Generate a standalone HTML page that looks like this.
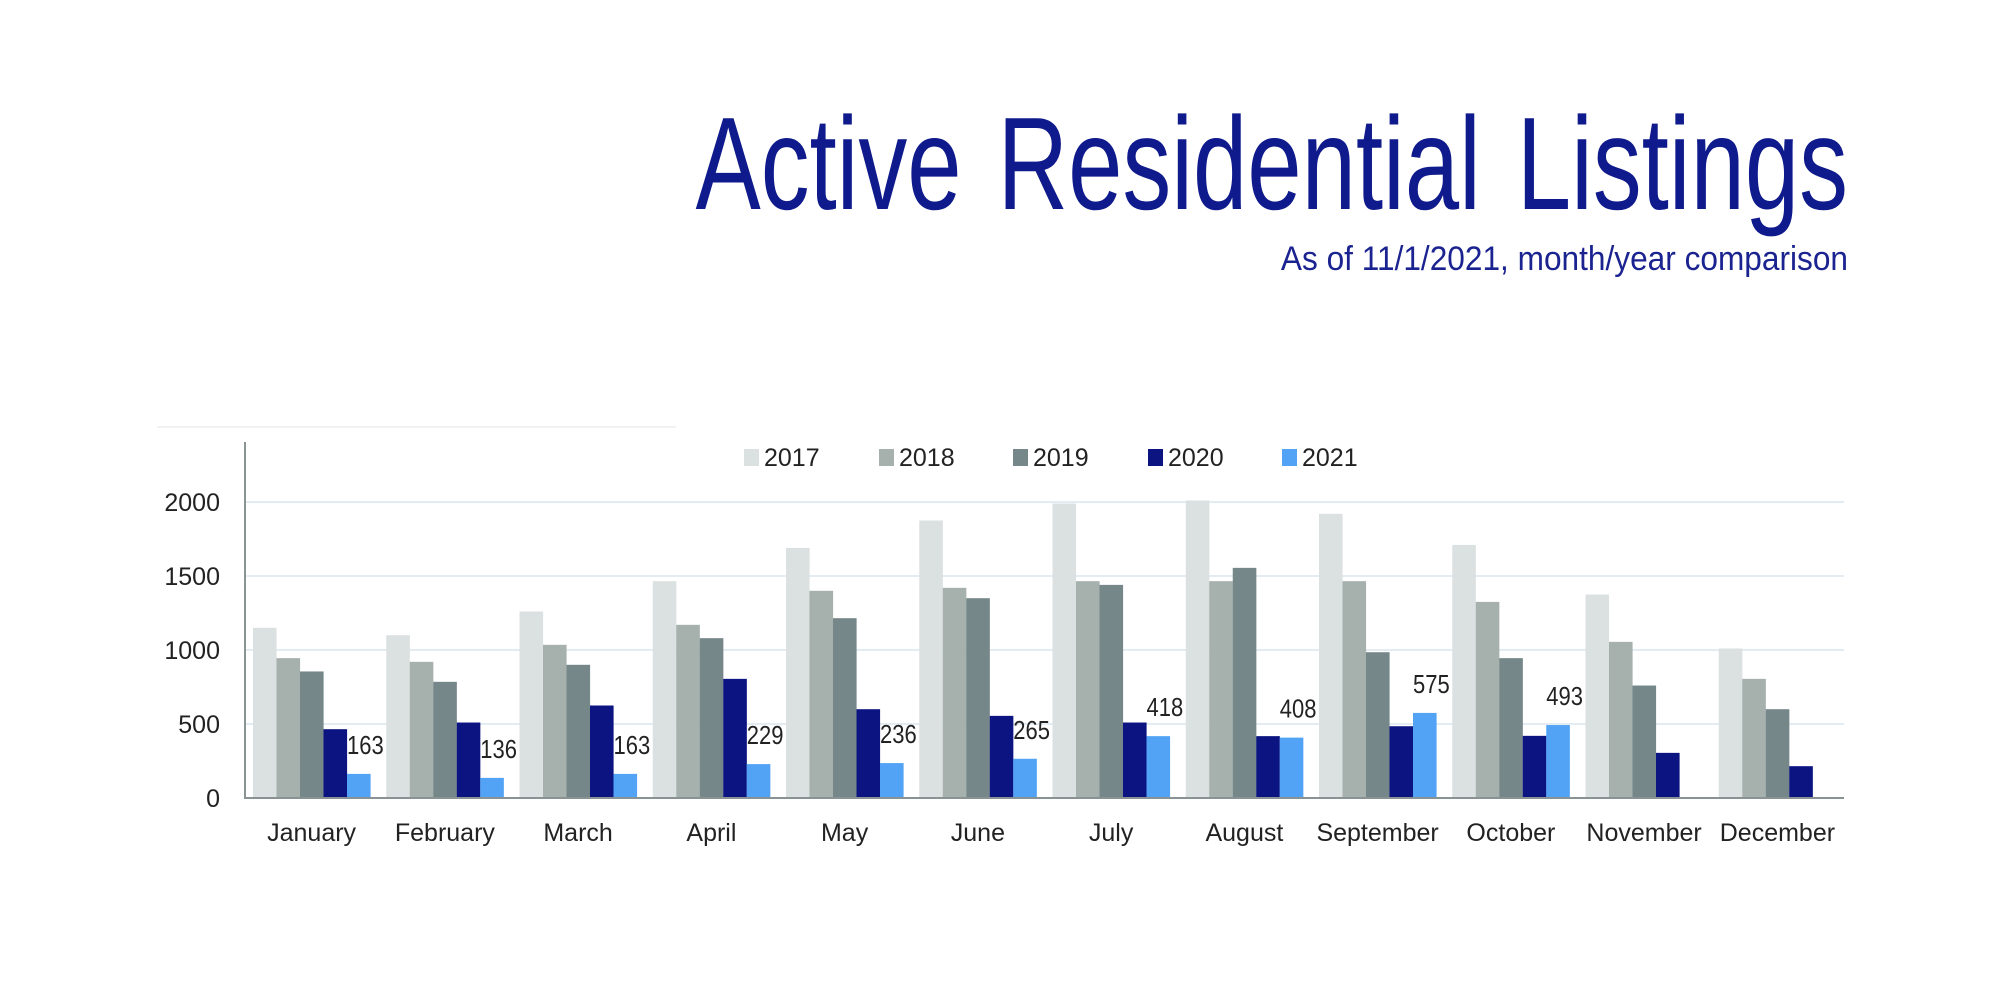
<!DOCTYPE html>
<html><head><meta charset="utf-8"><style>
html,body{margin:0;padding:0;background:#fff;}
svg{display:block;}
text{font-family:"Liberation Sans",Arial,sans-serif;}
</style></head><body>
<svg width="2000" height="1000" viewBox="0 0 2000 1000" xmlns="http://www.w3.org/2000/svg">
<rect width="2000" height="1000" fill="#fff"/>
<text x="0" y="0" font-size="132" fill="#0f1a8c" text-anchor="end" word-spacing="12" transform="translate(1848,209) scale(0.74,1)">Active Residential Listings</text>
<text x="0" y="0" font-size="34" fill="#1a2390" text-anchor="end" transform="translate(1848,270) scale(0.93,1)">As of 11/1/2021, month/year comparison</text>
<line x1="157" y1="427" x2="676" y2="427" stroke="#f2f2f2" stroke-width="2"/>
<g stroke="#e2ecf2" stroke-width="2">
<line x1="246" y1="502" x2="1844" y2="502"/>
<line x1="246" y1="576" x2="1844" y2="576"/>
<line x1="246" y1="650" x2="1844" y2="650"/>
<line x1="246" y1="724" x2="1844" y2="724"/>
</g>
<g font-size="25" fill="#222" text-anchor="end">
<text x="220" y="511">2000</text>
<text x="220" y="585">1500</text>
<text x="220" y="659">1000</text>
<text x="220" y="733">500</text>
<text x="220" y="807">0</text>
</g>
<g id="bars"></g>
<line x1="245" y1="442" x2="245" y2="799" stroke="#8a9393" stroke-width="2"/>
<line x1="244" y1="798" x2="1844" y2="798" stroke="#8a9393" stroke-width="2"/>
<g font-size="25" fill="#222">
<rect x="744" y="449" width="15" height="17" fill="#dbe1e0"/><text x="764" y="466">2017</text>
<rect x="879" y="449" width="15" height="17" fill="#a6b0ad"/><text x="899" y="466">2018</text>
<rect x="1013" y="449" width="15" height="17" fill="#76878a"/><text x="1033" y="466">2019</text>
<rect x="1148" y="449" width="15" height="17" fill="#0c1482"/><text x="1168" y="466">2020</text>
<rect x="1282" y="449" width="15" height="17" fill="#52a3f5"/><text x="1302" y="466">2021</text>
</g>
<g font-size="25" fill="#222" text-anchor="middle">
<text x="311.6" y="841">January</text>
<text x="444.9" y="841">February</text>
<text x="578.1" y="841">March</text>
<text x="711.4" y="841">April</text>
<text x="844.6" y="841">May</text>
<text x="977.9" y="841">June</text>
<text x="1111.1" y="841">July</text>
<text x="1244.4" y="841">August</text>
<text x="1377.6" y="841">September</text>
<text x="1510.9" y="841">October</text>
<text x="1644.1" y="841">November</text>
<text x="1777.4" y="841">December</text>
</g>
<g id="labels" font-size="25" fill="#222"></g>
<script>
(function(){
var d=[[1150,945,855,465,163],[1100,920,785,510,136],[1260,1035,900,625,163],[1465,1170,1080,805,229],[1690,1400,1215,600,236],[1875,1420,1350,555,265],[1990,1465,1440,510,418],[2010,1465,1555,418,408],[1920,1465,985,485,575],[1710,1325,945,420,493],[1375,1055,760,305,0],[1010,805,600,215,0]];
var c=["#dbe1e0","#a6b0ad","#76878a","#0c1482","#52a3f5"];
var ns="http://www.w3.org/2000/svg",g=document.getElementById("bars"),L=document.getElementById("labels");
for(var i=0;i<12;i++){var x0=245+i*133.25+8;
for(var j=0;j<5;j++){var v=d[i][j];if(!v)continue;var h=v*0.148;var r=document.createElementNS(ns,"rect");
r.setAttribute("x",x0+j*23.5);r.setAttribute("y",798-h);r.setAttribute("width",23.6);r.setAttribute("height",h);r.setAttribute("fill",c[j]);g.appendChild(r);
if(j==4){var t=document.createElementNS(ns,"text");t.setAttribute("x",0);t.setAttribute("y",0);t.setAttribute("transform","translate("+(x0+4*23.5)+","+(798-h-20)+") scale(0.88,1.05)");t.textContent=v;L.appendChild(t);}}}
})();
</script>
</svg>
</body></html>
